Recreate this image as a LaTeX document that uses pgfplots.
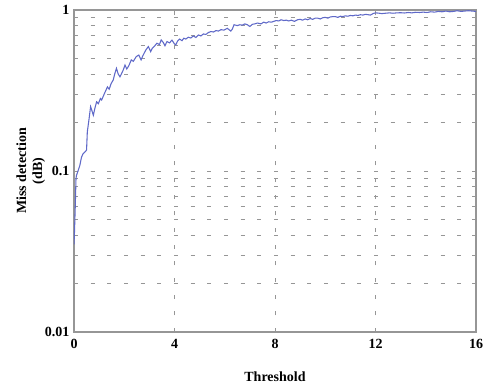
\documentclass[border=0pt]{standalone}
\usepackage{pgfplots}
\pgfplotsset{compat=1.18}
\usepackage{fontspec}
\setmainfont{Liberation Serif}
\definecolor{curve}{RGB}{95,105,200}
\definecolor{frame}{RGB}{150,150,150}
\begin{document}
\begin{tikzpicture}
\useasboundingbox (-55.5pt,-40.5pt) rectangle (307.5pt,249pt);
\begin{axis}[
  at={(0,0)}, anchor=south west,
  scale only axis, width=301.5pt, height=241.5pt,
  xmin=0, xmax=16, ymode=log, ymin=0.01, ymax=1,
  xtick={0,4,8,12,16}, xticklabels={0,4,8,12,16},
  ytick={0.01,0.1,1}, yticklabels={0.01,0.1,1},
  axis line style={frame, line width=0.9pt},
  tick style={frame, line width=0.6pt},
  major tick length=3pt, minor tick length=3pt,
  tick align=inside,
  xmajorgrids, ymajorgrids, yminorgrids,
  major grid style={frame, dash pattern=on 3pt off 9.5pt, line width=0.6pt},
  minor grid style={frame, dash pattern=on 3pt off 9.5pt, line width=0.6pt},
  ticklabel style={font=\fontsize{10.5}{12}\selectfont\bfseries},
  xticklabel style={yshift=-2pt},
  xlabel={Threshold},
  xlabel style={font=\fontsize{10.5}{12}\selectfont\bfseries, at={(axis description cs:0.5,0)}, anchor=north, yshift=-26pt},
  ylabel={Miss detection\\(dB)},
  ylabel style={font=\fontsize{10.5}{12}\selectfont\bfseries, align=center, at={(axis description cs:-0.06,0.5)}, anchor=south, rotate=0},
]
\addplot[curve, line width=0.8pt] coordinates {
(0.00,0.035) (0.02,0.042) (0.05,0.06) (0.08,0.09) (0.10,0.094) (0.16,0.1)
(0.23,0.108) (0.30,0.122) (0.36,0.128) (0.45,0.132) (0.50,0.135) (0.53,0.175)
(0.60,0.211) (0.66,0.251) (0.71,0.238) (0.77,0.222) (0.83,0.245) (0.90,0.269)
(0.97,0.262) (1.05,0.282) (1.10,0.276) (1.20,0.300) (1.33,0.333) (1.40,0.322)
(1.48,0.350) (1.56,0.367) (1.62,0.40) (1.69,0.434) (1.76,0.400) (1.83,0.385)
(1.90,0.405) (1.96,0.424) (2.03,0.455) (2.10,0.430) (2.18,0.45) (2.28,0.49)
(2.36,0.48) (2.48,0.514) (2.58,0.525) (2.67,0.49) (2.74,0.52) (2.86,0.565)
(2.96,0.593) (3.05,0.552) (3.12,0.58) (3.19,0.593) (3.30,0.622) (3.40,0.61)
(3.47,0.652) (3.55,0.63) (3.62,0.60) (3.70,0.637) (3.80,0.625) (3.90,0.65)
(4.00,0.615) (4.05,0.607) (4.12,0.64) (4.20,0.66) (4.30,0.645) (4.37,0.668)
(4.45,0.66) (4.55,0.678) (4.65,0.67) (4.75,0.69) (4.85,0.675) (4.95,0.70)
(5.05,0.69) (5.15,0.71) (5.25,0.705) (5.35,0.725) (5.45,0.735) (5.55,0.73)
(5.65,0.745) (5.75,0.74) (5.85,0.755) (5.97,0.75) (6.10,0.77) (6.24,0.74)
(6.30,0.76) (6.37,0.81) (6.50,0.80) (6.60,0.81) (6.70,0.805) (6.80,0.82)
(6.90,0.81) (7.00,0.79) (7.10,0.815) (7.20,0.82) (7.30,0.83) (7.44,0.82)
(7.55,0.84) (7.65,0.83) (7.75,0.845) (7.85,0.84) (7.95,0.85) (8.05,0.86)
(8.15,0.855) (8.24,0.87) (8.35,0.86) (8.45,0.865) (8.55,0.855) (8.65,0.865)
(8.77,0.85) (8.90,0.87) (9.00,0.875) (9.10,0.865) (9.20,0.88) (9.30,0.87)
(9.40,0.885) (9.50,0.875) (9.60,0.89) (9.70,0.89) (9.80,0.88) (9.90,0.895)
(10.00,0.9) (10.10,0.89) (10.20,0.905) (10.30,0.91) (10.40,0.91) (10.50,0.9)
(10.60,0.915) (10.70,0.91) (10.80,0.92) (10.90,0.915) (11.00,0.925) (11.10,0.92)
(11.20,0.93) (11.30,0.925) (11.40,0.935) (11.50,0.93) (11.60,0.94) (11.70,0.935)
(11.80,0.93) (11.90,0.95) (12.00,0.96) (12.10,0.957) (12.25,0.95) (12.40,0.955)
(12.55,0.96) (12.70,0.955) (12.85,0.96) (13.00,0.962) (13.15,0.958) (13.30,0.965)
(13.45,0.96) (13.60,0.968) (13.75,0.965) (13.90,0.97) (14.05,0.965) (14.20,0.975)
(14.35,0.97) (14.50,0.98) (14.65,0.975) (14.80,0.985) (14.95,0.975) (15.10,0.98)
(15.25,0.99) (15.40,0.98) (15.55,0.985) (15.70,0.99) (15.85,0.985) (16.00,0.98)
};
\end{axis}
\end{tikzpicture}
\end{document}
